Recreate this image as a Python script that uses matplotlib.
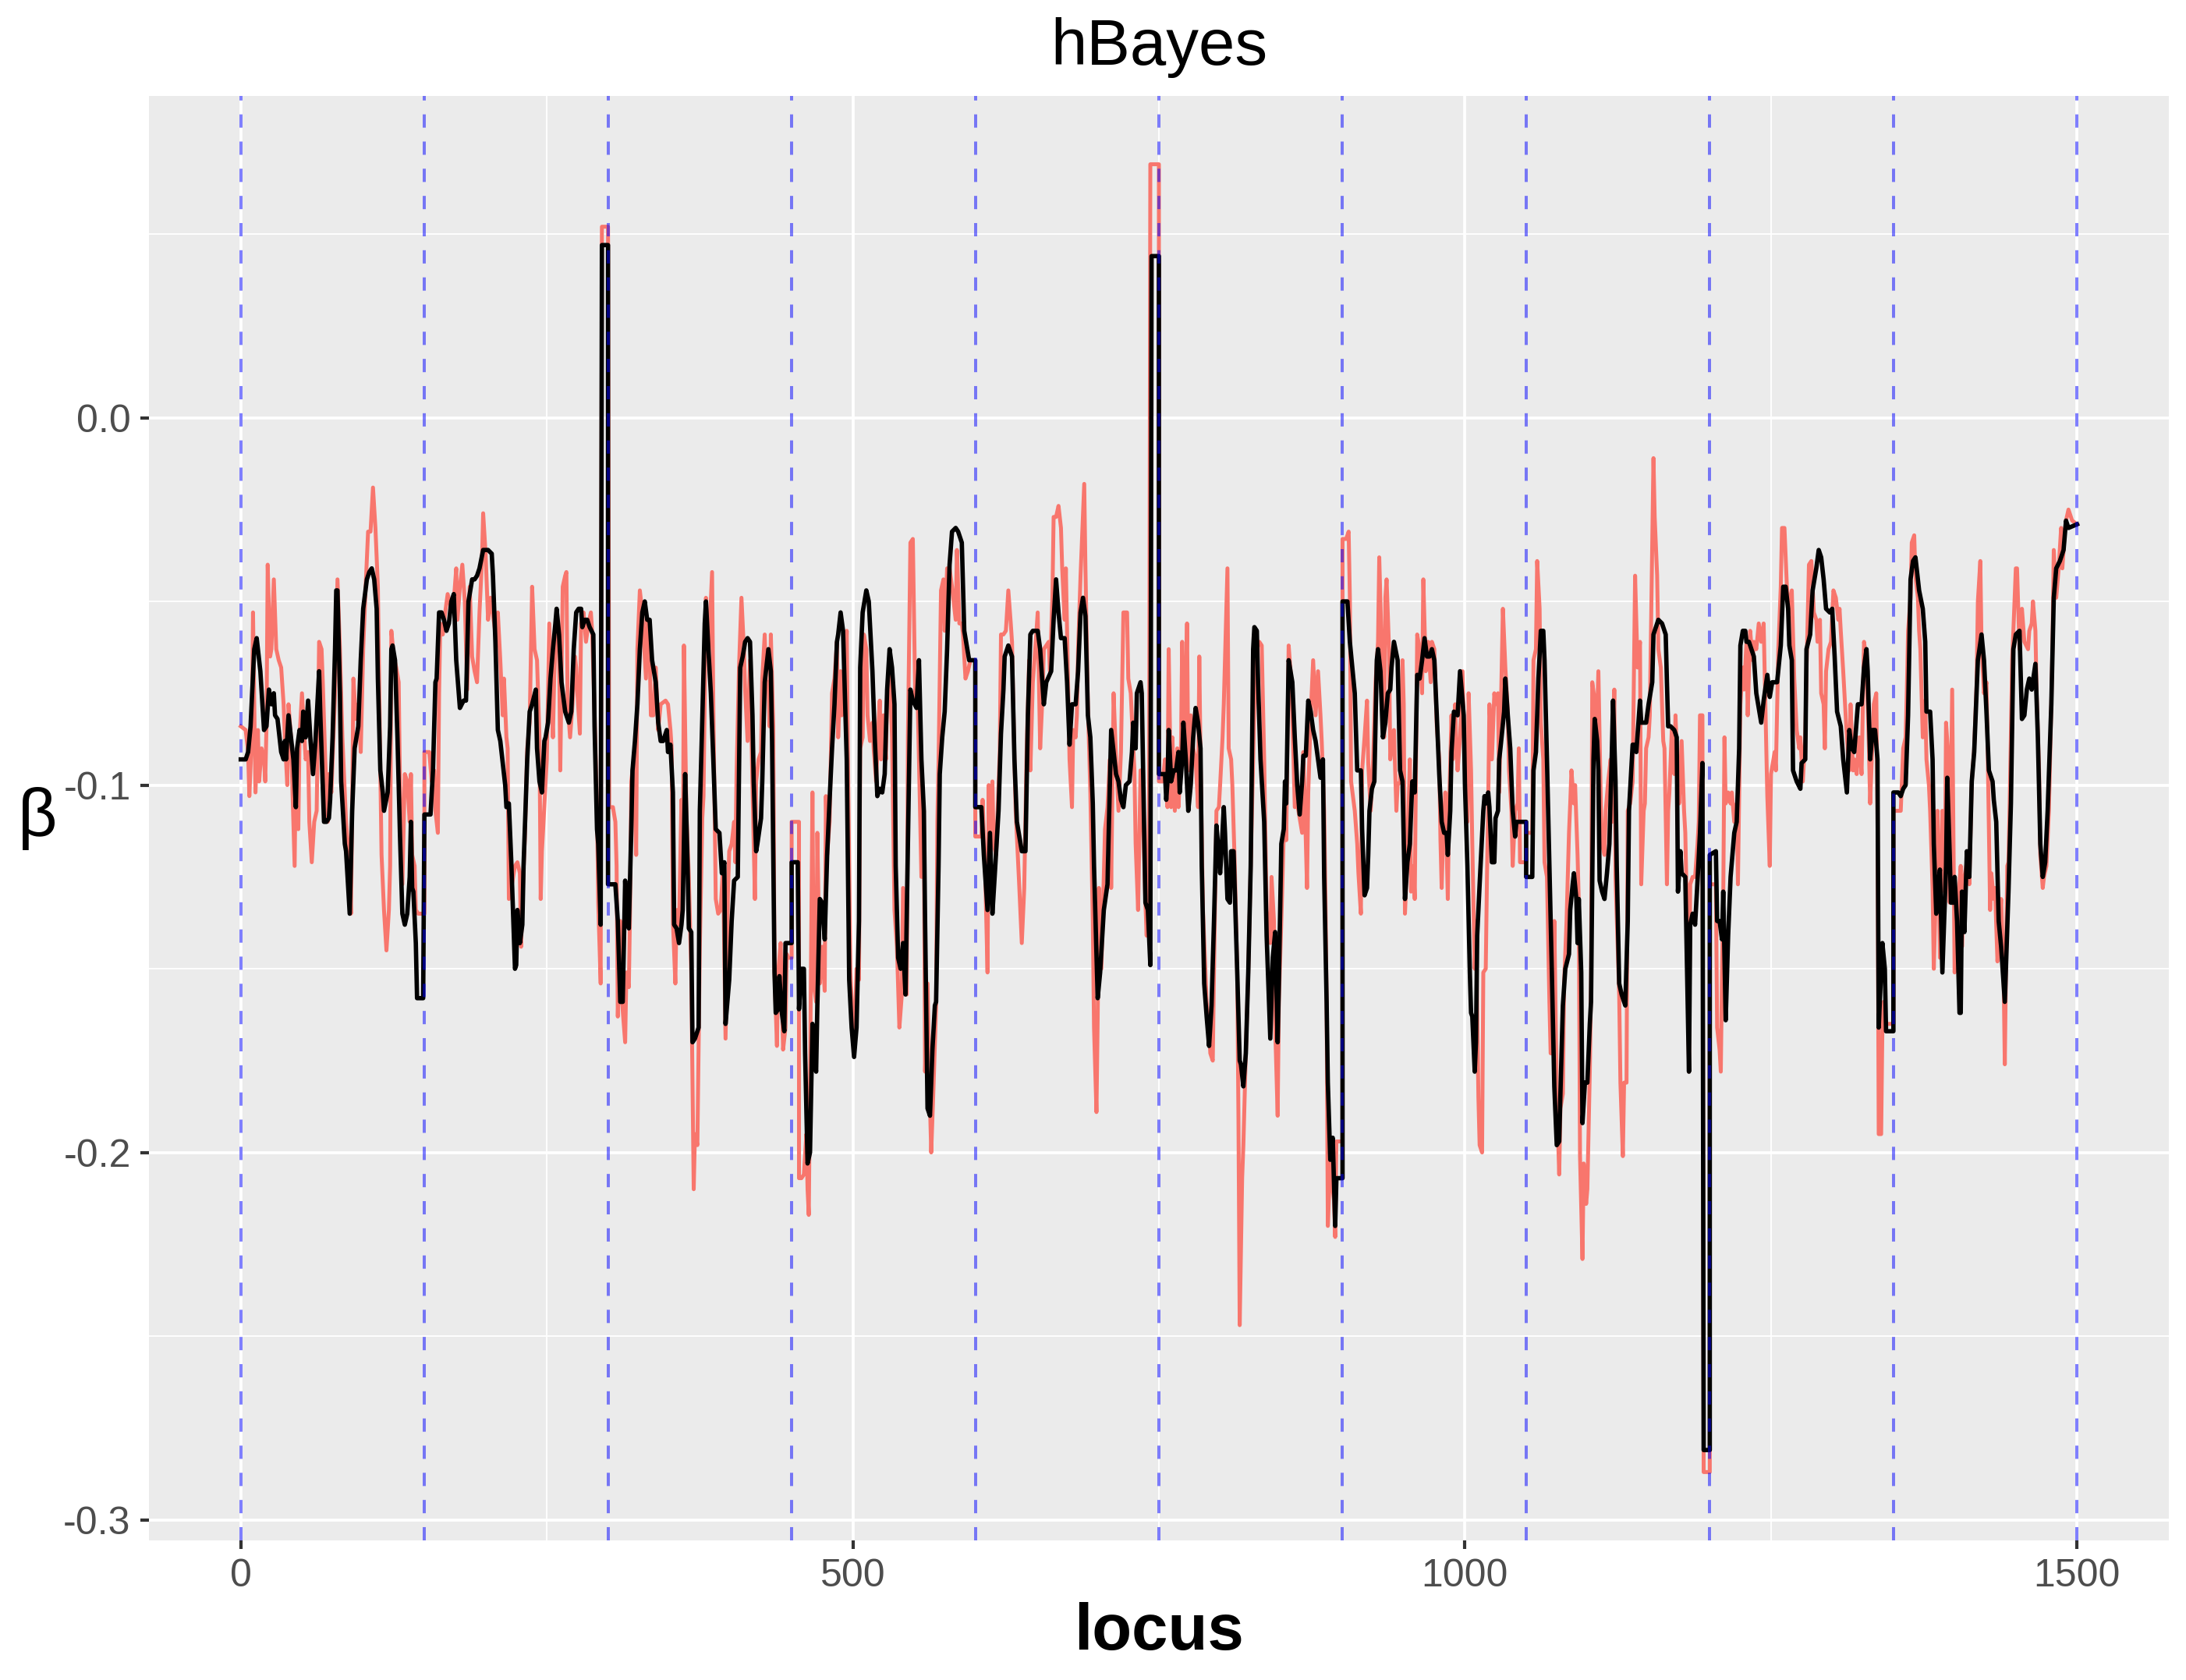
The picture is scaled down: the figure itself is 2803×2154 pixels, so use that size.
import matplotlib.pyplot as plt
import numpy as np

plt.rcParams['font.family'] = ['Liberation Sans', 'DejaVu Sans']

# smoothed estimate (black) as (locus, beta)
black_pts = [
    (0, -0.093), (4, -0.093), (6, -0.091), (8, -0.084), (11, -0.063), (13, -0.060), (16, -0.069),
    (19, -0.085), (21, -0.084), (23, -0.074), (25, -0.078), (27, -0.075), (28, -0.081), (30, -0.082),
    (33, -0.091), (35, -0.093), (36, -0.088), (37, -0.093), (39, -0.081), (41, -0.087), (43, -0.093),
    (45, -0.106), (46, -0.090), (48, -0.085), (50, -0.088), (51, -0.080), (53, -0.087), (55, -0.077),
    (57, -0.088), (59, -0.097), (61, -0.088), (64, -0.069), (65, -0.081), (68, -0.110), (70, -0.110),
    (72, -0.109), (73, -0.104), (75, -0.087), (77, -0.063), (78, -0.047), (79, -0.047), (81, -0.075),
    (82, -0.099), (85, -0.116), (86, -0.118), (89, -0.135), (91, -0.107), (93, -0.090), (96, -0.084),
    (98, -0.066), (100, -0.052), (103, -0.044), (105, -0.042), (107, -0.041), (109, -0.044),
    (111, -0.052), (112, -0.071), (114, -0.096), (116, -0.102), (117, -0.107), (120, -0.102),
    (122, -0.084), (123, -0.063), (124, -0.062), (126, -0.066), (128, -0.087), (130, -0.113),
    (132, -0.135), (134, -0.138), (136, -0.135), (138, -0.125), (139, -0.110), (140, -0.128),
    (141, -0.129), (143, -0.143), (144, -0.158), (149, -0.158), (150, -0.108), (155, -0.108),
    (157, -0.096), (159, -0.072), (160, -0.071), (162, -0.053), (164, -0.053), (166, -0.055),
    (168, -0.058), (170, -0.056), (172, -0.050), (174, -0.048), (176, -0.066), (179, -0.079),
    (182, -0.077), (184, -0.077), (186, -0.050), (189, -0.044), (191, -0.044), (193, -0.043),
    (195, -0.041), (198, -0.036), (200, -0.036), (202, -0.036), (205, -0.037), (206, -0.043),
    (208, -0.061), (210, -0.085), (212, -0.088), (214, -0.094), (216, -0.100), (217, -0.106),
    (219, -0.105), (221, -0.121), (224, -0.150), (225, -0.149), (226, -0.134), (228, -0.143),
    (230, -0.138), (231, -0.122), (234, -0.093), (236, -0.080), (238, -0.078), (241, -0.074),
    (242, -0.090), (244, -0.099), (246, -0.102), (248, -0.088), (249, -0.087), (251, -0.083),
    (253, -0.071), (255, -0.063), (257, -0.056), (258, -0.052), (260, -0.059), (262, -0.072),
    (265, -0.080), (268, -0.083), (270, -0.080), (272, -0.063), (274, -0.053), (276, -0.052),
    (278, -0.052), (279, -0.057), (281, -0.055), (283, -0.055), (285, -0.057), (288, -0.059),
    (289, -0.084), (291, -0.112), (292, -0.116), (294, -0.138), (295, 0.047), (300, 0.047),
    (300, -0.127), (306, -0.127), (308, -0.137), (310, -0.159), (312, -0.159), (314, -0.126),
    (315, -0.135), (317, -0.139), (319, -0.112), (320, -0.096), (322, -0.088), (324, -0.078),
    (326, -0.063), (328, -0.053), (330, -0.050), (332, -0.055), (334, -0.055), (336, -0.066),
    (339, -0.072), (341, -0.083), (343, -0.088), (345, -0.088), (348, -0.085), (349, -0.091),
    (351, -0.089), (353, -0.102), (354, -0.138), (356, -0.139), (358, -0.143), (360, -0.138),
    (361, -0.134), (363, -0.097), (365, -0.122), (366, -0.139), (368, -0.140), (369, -0.170),
    (371, -0.169), (374, -0.166), (375, -0.107), (377, -0.082), (379, -0.056), (380, -0.050),
    (382, -0.063), (384, -0.075), (386, -0.093), (388, -0.112), (391, -0.113), (393, -0.124),
    (395, -0.121), (396, -0.165), (399, -0.153), (401, -0.137), (403, -0.126), (406, -0.125),
    (408, -0.068), (410, -0.065), (412, -0.061), (414, -0.060), (416, -0.061), (418, -0.081),
    (419, -0.099), (421, -0.118), (422, -0.116), (425, -0.109), (426, -0.099), (428, -0.072),
    (431, -0.063), (433, -0.069), (434, -0.088), (436, -0.151), (437, -0.162), (439, -0.161),
    (440, -0.152), (442, -0.162), (444, -0.167), (445, -0.143), (450, -0.143), (450, -0.121),
    (455, -0.121), (456, -0.161), (458, -0.150), (460, -0.150), (461, -0.173), (463, -0.203),
    (465, -0.200), (467, -0.165), (468, -0.173), (470, -0.178), (471, -0.160), (473, -0.131),
    (475, -0.132), (477, -0.142), (479, -0.119), (481, -0.104), (483, -0.090), (485, -0.078),
    (487, -0.061), (488, -0.059), (490, -0.053), (492, -0.058), (495, -0.093), (497, -0.153),
    (499, -0.166), (501, -0.174), (503, -0.166), (505, -0.137), (506, -0.068), (508, -0.053),
    (511, -0.047), (513, -0.050), (516, -0.069), (518, -0.088), (520, -0.103), (522, -0.101),
    (524, -0.102), (526, -0.097), (528, -0.074), (530, -0.063), (532, -0.068), (534, -0.078),
    (535, -0.122), (537, -0.147), (539, -0.150), (541, -0.143), (543, -0.157), (545, -0.115),
    (547, -0.074), (549, -0.077), (552, -0.079), (554, -0.066), (556, -0.093), (558, -0.107),
    (559, -0.137), (561, -0.188), (563, -0.190), (565, -0.172), (567, -0.160), (568, -0.159),
    (570, -0.122), (571, -0.097), (573, -0.087), (575, -0.080), (577, -0.063), (579, -0.040),
    (581, -0.031), (584, -0.030), (586, -0.031), (589, -0.034), (591, -0.058), (593, -0.062),
    (595, -0.066), (600, -0.066), (600, -0.106), (605, -0.106), (607, -0.119), (610, -0.134),
    (612, -0.113), (614, -0.135), (616, -0.124), (619, -0.107), (621, -0.086), (623, -0.074),
    (624, -0.065), (627, -0.062), (630, -0.065), (632, -0.093), (634, -0.110), (638, -0.118),
    (641, -0.118), (643, -0.081), (645, -0.059), (647, -0.058), (651, -0.058), (653, -0.063),
    (656, -0.078), (658, -0.072), (662, -0.069), (664, -0.055), (666, -0.044), (668, -0.053),
    (670, -0.060), (673, -0.060), (675, -0.072), (677, -0.089), (679, -0.078), (682, -0.078),
    (684, -0.069), (686, -0.053), (688, -0.049), (690, -0.054), (692, -0.081), (694, -0.087),
    (696, -0.105), (697, -0.122), (700, -0.158), (702, -0.151), (705, -0.134), (708, -0.127),
    (711, -0.085), (713, -0.091), (715, -0.097), (717, -0.099), (719, -0.104), (721, -0.106),
    (723, -0.100), (726, -0.099), (728, -0.091), (729, -0.083), (731, -0.090), (732, -0.075),
    (735, -0.072), (736, -0.075), (739, -0.132), (741, -0.134), (743, -0.149), (744, 0.044),
    (750, 0.044), (750, -0.097), (755, -0.097), (756, -0.104), (757, -0.099), (758, -0.085),
    (760, -0.099), (762, -0.096), (764, -0.096), (766, -0.091), (767, -0.102), (769, -0.093),
    (770, -0.083), (772, -0.093), (774, -0.107), (776, -0.100), (778, -0.087), (780, -0.079),
    (782, -0.083), (784, -0.090), (785, -0.122), (787, -0.154), (789, -0.163), (791, -0.171),
    (793, -0.160), (795, -0.137), (797, -0.111), (799, -0.119), (800, -0.124), (801, -0.119),
    (803, -0.106), (804, -0.113), (806, -0.131), (808, -0.132), (809, -0.118), (811, -0.118),
    (812, -0.129), (814, -0.151), (816, -0.175), (817, -0.176), (819, -0.182), (821, -0.173),
    (823, -0.151), (825, -0.122), (827, -0.063), (828, -0.057), (830, -0.058), (831, -0.072),
    (833, -0.093), (836, -0.110), (838, -0.141), (841, -0.169), (843, -0.147), (845, -0.140),
    (847, -0.170), (848, -0.154), (850, -0.116), (852, -0.112), (853, -0.099), (854, -0.105),
    (856, -0.066), (859, -0.072), (861, -0.087), (863, -0.100), (865, -0.108), (867, -0.099),
    (868, -0.092), (870, -0.092), (872, -0.077), (874, -0.080), (876, -0.085), (878, -0.088),
    (880, -0.093), (882, -0.098), (884, -0.093), (885, -0.125), (887, -0.159), (888, -0.181),
    (890, -0.202), (892, -0.196), (894, -0.220), (895, -0.207), (900, -0.207), (900, -0.050),
    (904, -0.050), (906, -0.061), (910, -0.075), (912, -0.096), (915, -0.096), (916, -0.112),
    (918, -0.130), (920, -0.128), (921, -0.119), (922, -0.107), (924, -0.101), (926, -0.099),
    (928, -0.066), (929, -0.063), (931, -0.069), (933, -0.087), (935, -0.083), (937, -0.075),
    (939, -0.074), (940, -0.068), (942, -0.061), (945, -0.066), (947, -0.096), (949, -0.099),
    (951, -0.131), (953, -0.121), (955, -0.116), (957, -0.099), (959, -0.102), (961, -0.070),
    (963, -0.071), (965, -0.066), (967, -0.060), (969, -0.065), (971, -0.065), (973, -0.063),
    (975, -0.066), (977, -0.081), (979, -0.097), (981, -0.110), (983, -0.113), (985, -0.113),
    (986, -0.119), (988, -0.107), (989, -0.091), (991, -0.080), (994, -0.081), (996, -0.069),
    (999, -0.081), (1000, -0.100), (1002, -0.122), (1004, -0.151), (1005, -0.162), (1006, -0.163),
    (1008, -0.178), (1009, -0.170), (1010, -0.141), (1012, -0.127), (1015, -0.107), (1016, -0.103),
    (1017, -0.105), (1019, -0.102), (1020, -0.106), (1022, -0.121), (1024, -0.121), (1025, -0.109),
    (1027, -0.107), (1028, -0.093), (1029, -0.090), (1032, -0.080), (1033, -0.071), (1035, -0.081),
    (1037, -0.090), (1039, -0.107), (1041, -0.114), (1042, -0.110), (1050, -0.110), (1050, -0.125),
    (1055, -0.125), (1056, -0.096), (1058, -0.091), (1060, -0.071), (1062, -0.058), (1064, -0.058),
    (1065, -0.066), (1067, -0.093), (1069, -0.122), (1071, -0.151), (1073, -0.182), (1075, -0.198),
    (1077, -0.197), (1078, -0.184), (1080, -0.160), (1082, -0.150), (1085, -0.146), (1086, -0.134),
    (1088, -0.127), (1089, -0.124), (1091, -0.131), (1092, -0.143), (1093, -0.131), (1095, -0.151),
    (1096, -0.192), (1098, -0.181), (1100, -0.181), (1102, -0.165), (1103, -0.159), (1105, -0.093),
    (1106, -0.082), (1108, -0.088), (1109, -0.096), (1110, -0.126), (1112, -0.129), (1114, -0.131),
    (1116, -0.124), (1118, -0.116), (1120, -0.091), (1121, -0.077), (1123, -0.099), (1124, -0.122),
    (1126, -0.154), (1128, -0.157), (1131, -0.160), (1133, -0.137), (1134, -0.107), (1137, -0.089),
    (1138, -0.089), (1140, -0.091), (1143, -0.077), (1144, -0.083), (1146, -0.083), (1148, -0.083),
    (1150, -0.078), (1153, -0.072), (1154, -0.059), (1156, -0.057), (1158, -0.055), (1161, -0.056),
    (1164, -0.059), (1165, -0.072), (1166, -0.084), (1168, -0.084), (1171, -0.085), (1173, -0.087),
    (1174, -0.129), (1176, -0.118), (1177, -0.124), (1180, -0.125), (1181, -0.143), (1183, -0.178),
    (1184, -0.138), (1186, -0.135), (1188, -0.138), (1190, -0.126), (1192, -0.113), (1194, -0.094),
    (1195, -0.281), (1200, -0.281), (1200, -0.119), (1205, -0.118), (1206, -0.137), (1208, -0.137),
    (1210, -0.142), (1211, -0.129), (1213, -0.164), (1215, -0.141), (1217, -0.125), (1220, -0.113),
    (1222, -0.110), (1224, -0.090), (1225, -0.062), (1227, -0.058), (1229, -0.058), (1230, -0.061),
    (1232, -0.061), (1234, -0.063), (1236, -0.065), (1238, -0.075), (1241, -0.081), (1242, -0.083),
    (1244, -0.077), (1247, -0.070), (1249, -0.076), (1251, -0.072), (1255, -0.072), (1258, -0.062),
    (1260, -0.046), (1262, -0.046), (1264, -0.052), (1265, -0.062), (1267, -0.066), (1268, -0.096),
    (1271, -0.099), (1274, -0.101), (1275, -0.094), (1278, -0.093), (1279, -0.063), (1282, -0.059),
    (1284, -0.047), (1287, -0.041), (1289, -0.036), (1291, -0.038), (1293, -0.044), (1295, -0.052),
    (1298, -0.053), (1300, -0.052), (1302, -0.065), (1304, -0.080), (1307, -0.084), (1309, -0.093),
    (1312, -0.102), (1314, -0.085), (1316, -0.090), (1318, -0.091), (1321, -0.078), (1324, -0.078),
    (1326, -0.068), (1328, -0.063), (1329, -0.069), (1331, -0.093), (1333, -0.085), (1335, -0.085),
    (1337, -0.093), (1338, -0.166), (1341, -0.143), (1343, -0.150), (1344, -0.167), (1350, -0.167),
    (1350, -0.102), (1354, -0.102), (1356, -0.103), (1358, -0.101), (1360, -0.100), (1362, -0.081),
    (1363, -0.063), (1364, -0.044), (1366, -0.039), (1368, -0.038), (1369, -0.041), (1371, -0.047),
    (1374, -0.052), (1376, -0.061), (1377, -0.080), (1380, -0.080), (1382, -0.093), (1383, -0.116),
    (1385, -0.135), (1386, -0.129), (1388, -0.123), (1390, -0.151), (1393, -0.122), (1394, -0.098),
    (1396, -0.119), (1397, -0.132), (1399, -0.132), (1400, -0.125), (1402, -0.137), (1404, -0.162),
    (1405, -0.162), (1406, -0.129), (1408, -0.140), (1410, -0.118), (1412, -0.125), (1414, -0.099),
    (1416, -0.091), (1419, -0.066), (1422, -0.059), (1424, -0.066), (1426, -0.080), (1428, -0.096),
    (1431, -0.099), (1432, -0.104), (1434, -0.110), (1436, -0.137), (1438, -0.144), (1441, -0.159),
    (1444, -0.129), (1446, -0.105), (1448, -0.063), (1450, -0.059), (1453, -0.058), (1455, -0.082),
    (1457, -0.081), (1459, -0.074), (1461, -0.071), (1463, -0.074), (1466, -0.067), (1468, -0.087),
    (1470, -0.116), (1472, -0.125), (1474, -0.121), (1476, -0.107), (1479, -0.078), (1481, -0.049),
    (1483, -0.041), (1486, -0.039), (1489, -0.036), (1491, -0.028), (1493, -0.030), (1500, -0.029),
]

# raw estimate (red) as (locus, beta)
red_pts = [
    (0, -0.084), (4, -0.085), (6, -0.091), (7, -0.103), (9, -0.087), (10, -0.053), (12, -0.102),
    (13, -0.093), (14, -0.085), (15, -0.099), (17, -0.090), (19, -0.093), (20, -0.099), (21, -0.084),
    (22, -0.040), (24, -0.065), (25, -0.063), (27, -0.044), (29, -0.063), (31, -0.066), (33, -0.068),
    (35, -0.078), (36, -0.087), (38, -0.100), (39, -0.078), (41, -0.087), (43, -0.110), (44, -0.122),
    (45, -0.093), (47, -0.112), (48, -0.087), (50, -0.075), (53, -0.093), (55, -0.091), (56, -0.110),
    (58, -0.121), (60, -0.110), (62, -0.107), (64, -0.061), (66, -0.063), (67, -0.072), (69, -0.093),
    (71, -0.110), (72, -0.097), (74, -0.102), (76, -0.084), (77, -0.075), (79, -0.044), (81, -0.063),
    (83, -0.087), (86, -0.110), (88, -0.118), (90, -0.135), (91, -0.107), (92, -0.071), (94, -0.082),
    (96, -0.078), (98, -0.091), (100, -0.063), (102, -0.046), (104, -0.031), (106, -0.031),
    (108, -0.019), (110, -0.030), (112, -0.046), (114, -0.096), (115, -0.119), (117, -0.134),
    (119, -0.145), (121, -0.134), (122, -0.122), (123, -0.058), (125, -0.065), (127, -0.068),
    (129, -0.072), (130, -0.099), (132, -0.127), (134, -0.097), (136, -0.099), (138, -0.110),
    (139, -0.097), (140, -0.119), (142, -0.122), (143, -0.134), (145, -0.135), (150, -0.135),
    (150, -0.091), (154, -0.091), (156, -0.099), (158, -0.096), (159, -0.107), (161, -0.113),
    (162, -0.075), (163, -0.056), (165, -0.059), (167, -0.053), (169, -0.048), (172, -0.052),
    (174, -0.050), (176, -0.041), (177, -0.055), (179, -0.046), (181, -0.040), (183, -0.050),
    (185, -0.074), (187, -0.046), (189, -0.065), (191, -0.069), (193, -0.072), (195, -0.053),
    (197, -0.039), (198, -0.026), (200, -0.037), (202, -0.055), (204, -0.049), (207, -0.056),
    (209, -0.062), (210, -0.053), (212, -0.066), (214, -0.081), (215, -0.071), (217, -0.087),
    (218, -0.090), (219, -0.131), (221, -0.128), (224, -0.122), (226, -0.121), (228, -0.124),
    (229, -0.144), (230, -0.131), (232, -0.115), (234, -0.090), (236, -0.083), (238, -0.046),
    (240, -0.063), (242, -0.066), (244, -0.087), (245, -0.131), (246, -0.118), (247, -0.112),
    (249, -0.099), (250, -0.093), (252, -0.056), (254, -0.078), (255, -0.087), (256, -0.071),
    (258, -0.053), (260, -0.063), (261, -0.096), (263, -0.046), (265, -0.043), (266, -0.042),
    (267, -0.078), (269, -0.087), (271, -0.078), (273, -0.065), (274, -0.068), (275, -0.075),
    (277, -0.086), (278, -0.056), (280, -0.053), (282, -0.061), (284, -0.056), (286, -0.053),
    (287, -0.058), (289, -0.080), (291, -0.106), (292, -0.132), (294, -0.154), (295, 0.052),
    (300, 0.052), (301, -0.106), (304, -0.106), (306, -0.110), (307, -0.122), (308, -0.163),
    (310, -0.137), (311, -0.157), (314, -0.170), (315, -0.151), (317, -0.155), (318, -0.134),
    (319, -0.099), (321, -0.093), (323, -0.119), (324, -0.063), (326, -0.047), (328, -0.053),
    (331, -0.071), (332, -0.055), (334, -0.063), (335, -0.081), (337, -0.081), (339, -0.068),
    (341, -0.085), (343, -0.078), (347, -0.077), (349, -0.078), (351, -0.085), (352, -0.090),
    (353, -0.137), (355, -0.154), (356, -0.134), (358, -0.138), (360, -0.104), (361, -0.132),
    (362, -0.062), (364, -0.107), (366, -0.125), (368, -0.151), (370, -0.210), (371, -0.195),
    (373, -0.198), (375, -0.144), (377, -0.109), (378, -0.103), (380, -0.049), (382, -0.065),
    (385, -0.042), (386, -0.078), (388, -0.131), (390, -0.135), (392, -0.134), (394, -0.122),
    (395, -0.146), (396, -0.169), (398, -0.129), (399, -0.118), (401, -0.116), (403, -0.110),
    (404, -0.121), (405, -0.097), (407, -0.068), (409, -0.049), (411, -0.063), (412, -0.074),
    (414, -0.088), (416, -0.066), (418, -0.100), (420, -0.131), (421, -0.099), (423, -0.093),
    (425, -0.091), (426, -0.071), (428, -0.059), (429, -0.072), (431, -0.072), (432, -0.084),
    (433, -0.059), (435, -0.084), (436, -0.151), (438, -0.171), (439, -0.151), (441, -0.143),
    (443, -0.172), (445, -0.166), (446, -0.146), (447, -0.147), (450, -0.147), (450, -0.110),
    (456, -0.110), (456, -0.207), (458, -0.207), (460, -0.206), (462, -0.195), (463, -0.210),
    (464, -0.217), (465, -0.181), (467, -0.102), (468, -0.154), (470, -0.159), (471, -0.113),
    (473, -0.154), (475, -0.144), (477, -0.156), (478, -0.103), (479, -0.119), (481, -0.110),
    (483, -0.075), (485, -0.071), (487, -0.061), (488, -0.087), (490, -0.069), (491, -0.081),
    (493, -0.078), (495, -0.058), (496, -0.093), (498, -0.151), (500, -0.166), (501, -0.173),
    (503, -0.150), (505, -0.153), (506, -0.090), (508, -0.087), (509, -0.059), (511, -0.063),
    (512, -0.081), (514, -0.088), (516, -0.083), (517, -0.090), (519, -0.099), (521, -0.083),
    (522, -0.077), (523, -0.093), (525, -0.081), (527, -0.093), (528, -0.075), (530, -0.068),
    (532, -0.087), (534, -0.134), (536, -0.144), (538, -0.166), (540, -0.157), (541, -0.128),
    (544, -0.157), (545, -0.087), (547, -0.034), (549, -0.033), (551, -0.077), (553, -0.078),
    (554, -0.093), (556, -0.125), (558, -0.107), (559, -0.178), (561, -0.154), (563, -0.187),
    (564, -0.200), (566, -0.181), (568, -0.160), (569, -0.110), (570, -0.094), (572, -0.047),
    (574, -0.044), (575, -0.058), (577, -0.041), (579, -0.041), (581, -0.046), (584, -0.055),
    (585, -0.036), (587, -0.056), (589, -0.056), (590, -0.059), (592, -0.071), (594, -0.069),
    (596, -0.066), (600, -0.066), (600, -0.114), (605, -0.114), (606, -0.104), (608, -0.122),
    (610, -0.151), (611, -0.100), (612, -0.119), (614, -0.099), (615, -0.116), (617, -0.119),
    (620, -0.091), (621, -0.059), (623, -0.059), (625, -0.058), (627, -0.047), (629, -0.056),
    (630, -0.061), (632, -0.093), (633, -0.107), (636, -0.128), (638, -0.143), (640, -0.128),
    (642, -0.090), (644, -0.066), (645, -0.096), (647, -0.072), (649, -0.063), (651, -0.053),
    (653, -0.090), (655, -0.075), (656, -0.063), (658, -0.062), (660, -0.061), (661, -0.069),
    (663, -0.049), (664, -0.027), (666, -0.027), (668, -0.024), (670, -0.030), (671, -0.041),
    (673, -0.055), (674, -0.041), (676, -0.075), (677, -0.093), (679, -0.106), (680, -0.085),
    (682, -0.087), (683, -0.081), (684, -0.063), (686, -0.043), (689, -0.018), (690, -0.041),
    (692, -0.078), (694, -0.102), (696, -0.137), (697, -0.166), (699, -0.189), (700, -0.163),
    (701, -0.128), (703, -0.150), (706, -0.112), (708, -0.106), (710, -0.093), (711, -0.128),
    (713, -0.075), (715, -0.093), (717, -0.107), (719, -0.091), (721, -0.053), (724, -0.053),
    (725, -0.071), (727, -0.075), (730, -0.096), (731, -0.116), (733, -0.134), (735, -0.096),
    (736, -0.097), (739, -0.132), (740, -0.141), (742, -0.107), (743, 0.069), (750, 0.069),
    (750, -0.099), (753, -0.099), (755, -0.093), (757, -0.106), (758, -0.063), (760, -0.106),
    (761, -0.087), (763, -0.107), (765, -0.090), (766, -0.106), (768, -0.091), (769, -0.061),
    (771, -0.093), (773, -0.056), (774, -0.096), (776, -0.081), (778, -0.090), (780, -0.093),
    (782, -0.106), (783, -0.065), (784, -0.093), (786, -0.134), (789, -0.159), (791, -0.166),
    (792, -0.173), (794, -0.175), (795, -0.151), (797, -0.107), (799, -0.106), (800, -0.100),
    (802, -0.087), (803, -0.078), (806, -0.041), (807, -0.090), (809, -0.093), (810, -0.100),
    (812, -0.122), (814, -0.151), (815, -0.191), (816, -0.247), (818, -0.207), (819, -0.198),
    (821, -0.173), (823, -0.151), (824, -0.137), (826, -0.107), (828, -0.078), (830, -0.063),
    (832, -0.061), (834, -0.062), (836, -0.093), (838, -0.134), (841, -0.143), (842, -0.125),
    (844, -0.137), (845, -0.166), (847, -0.190), (848, -0.159), (850, -0.137), (852, -0.113),
    (853, -0.107), (854, -0.115), (856, -0.062), (858, -0.071), (860, -0.093), (861, -0.106),
    (863, -0.105), (865, -0.109), (867, -0.113), (868, -0.091), (870, -0.115), (871, -0.128),
    (872, -0.102), (874, -0.081), (876, -0.066), (878, -0.081), (880, -0.069), (882, -0.081),
    (883, -0.088), (885, -0.107), (886, -0.129), (887, -0.159), (888, -0.220), (890, -0.203),
    (892, -0.210), (893, -0.213), (894, -0.223), (895, -0.197), (900, -0.197), (900, -0.033),
    (903, -0.033), (905, -0.031), (906, -0.049), (907, -0.099), (910, -0.107), (912, -0.116),
    (913, -0.124), (915, -0.135), (916, -0.096), (918, -0.087), (920, -0.077), (921, -0.094),
    (923, -0.107), (924, -0.099), (925, -0.093), (927, -0.072), (929, -0.061), (930, -0.038),
    (932, -0.063), (934, -0.087), (935, -0.049), (936, -0.044), (938, -0.063), (939, -0.093),
    (941, -0.087), (942, -0.085), (944, -0.107), (945, -0.100), (947, -0.099), (949, -0.066),
    (950, -0.078), (951, -0.135), (953, -0.119), (955, -0.093), (956, -0.129), (958, -0.122),
    (959, -0.131), (961, -0.059), (963, -0.063), (965, -0.075), (966, -0.044), (968, -0.069),
    (970, -0.061), (972, -0.072), (973, -0.061), (975, -0.063), (977, -0.084), (979, -0.093),
    (980, -0.115), (981, -0.128), (982, -0.116), (984, -0.102), (986, -0.131), (987, -0.107),
    (989, -0.081), (990, -0.093), (992, -0.078), (993, -0.090), (994, -0.096), (996, -0.087),
    (998, -0.069), (1000, -0.096), (1002, -0.110), (1003, -0.075), (1005, -0.096), (1006, -0.116),
    (1008, -0.150), (1009, -0.137), (1011, -0.185), (1012, -0.198), (1014, -0.200), (1015, -0.151),
    (1017, -0.150), (1018, -0.125), (1019, -0.105), (1020, -0.078), (1022, -0.093), (1024, -0.075),
    (1025, -0.078), (1027, -0.075), (1028, -0.102), (1029, -0.085), (1031, -0.052), (1033, -0.068),
    (1035, -0.080), (1036, -0.096), (1038, -0.107), (1039, -0.122), (1041, -0.107), (1043, -0.105),
    (1044, -0.090), (1045, -0.121), (1050, -0.121), (1050, -0.113), (1055, -0.113), (1056, -0.066),
    (1058, -0.063), (1059, -0.039), (1061, -0.052), (1062, -0.083), (1064, -0.093), (1065, -0.121),
    (1067, -0.125), (1069, -0.159), (1070, -0.173), (1072, -0.173), (1073, -0.137), (1075, -0.184),
    (1077, -0.206), (1078, -0.188), (1080, -0.184), (1081, -0.154), (1083, -0.137), (1085, -0.113),
    (1086, -0.105), (1087, -0.096), (1089, -0.105), (1090, -0.100), (1092, -0.119), (1093, -0.132),
    (1094, -0.201), (1096, -0.229), (1097, -0.203), (1099, -0.214), (1100, -0.210), (1102, -0.178),
    (1103, -0.154), (1104, -0.072), (1106, -0.077), (1107, -0.093), (1109, -0.069), (1111, -0.105),
    (1112, -0.116), (1114, -0.119), (1115, -0.107), (1117, -0.099), (1119, -0.093), (1120, -0.110),
    (1122, -0.074), (1123, -0.125), (1126, -0.157), (1127, -0.181), (1129, -0.201), (1130, -0.181),
    (1132, -0.181), (1133, -0.107), (1135, -0.105), (1137, -0.099), (1139, -0.043), (1141, -0.068),
    (1143, -0.061), (1144, -0.127), (1146, -0.107), (1147, -0.105), (1148, -0.090), (1150, -0.087),
    (1151, -0.081), (1154, -0.011), (1155, -0.027), (1157, -0.043), (1158, -0.063), (1160, -0.068),
    (1162, -0.088), (1163, -0.090), (1165, -0.127), (1166, -0.107), (1167, -0.102), (1169, -0.085),
    (1171, -0.097), (1172, -0.081), (1174, -0.100), (1175, -0.105), (1177, -0.088), (1179, -0.107),
    (1180, -0.113), (1181, -0.129), (1183, -0.178), (1184, -0.127), (1186, -0.125), (1188, -0.125),
    (1190, -0.116), (1191, -0.110), (1192, -0.081), (1194, -0.081), (1195, -0.287), (1200, -0.287),
    (1200, -0.127), (1205, -0.127), (1206, -0.166), (1208, -0.172), (1209, -0.178), (1210, -0.151),
    (1211, -0.131), (1212, -0.087), (1213, -0.105), (1215, -0.102), (1217, -0.105), (1218, -0.102),
    (1220, -0.110), (1222, -0.105), (1223, -0.127), (1225, -0.078), (1226, -0.072), (1227, -0.068),
    (1228, -0.074), (1230, -0.061), (1231, -0.081), (1233, -0.058), (1235, -0.066), (1236, -0.061),
    (1238, -0.063), (1240, -0.056), (1242, -0.061), (1244, -0.056), (1246, -0.087), (1247, -0.103),
    (1249, -0.122), (1250, -0.097), (1253, -0.091), (1254, -0.096), (1256, -0.063), (1258, -0.046),
    (1259, -0.030), (1261, -0.030), (1263, -0.046), (1265, -0.053), (1267, -0.047), (1269, -0.071),
    (1271, -0.085), (1273, -0.090), (1274, -0.087), (1276, -0.099), (1278, -0.087), (1279, -0.069),
    (1281, -0.040), (1283, -0.039), (1285, -0.053), (1287, -0.055), (1288, -0.061), (1290, -0.055),
    (1291, -0.075), (1293, -0.078), (1294, -0.090), (1295, -0.069), (1297, -0.063), (1299, -0.061),
    (1301, -0.047), (1303, -0.049), (1305, -0.055), (1306, -0.052), (1307, -0.058), (1309, -0.069),
    (1310, -0.075), (1312, -0.087), (1314, -0.096), (1315, -0.078), (1317, -0.096), (1318, -0.093),
    (1320, -0.097), (1322, -0.087), (1324, -0.097), (1326, -0.061), (1328, -0.066), (1330, -0.090),
    (1331, -0.105), (1333, -0.087), (1334, -0.078), (1336, -0.075), (1337, -0.107), (1338, -0.195),
    (1340, -0.195), (1341, -0.166), (1342, -0.159), (1343, -0.165), (1350, -0.165), (1350, -0.107),
    (1356, -0.107), (1358, -0.090), (1360, -0.087), (1361, -0.074), (1362, -0.058), (1364, -0.049),
    (1365, -0.034), (1367, -0.032), (1368, -0.043), (1370, -0.049), (1371, -0.058), (1372, -0.063),
    (1374, -0.087), (1376, -0.077), (1377, -0.093), (1379, -0.100), (1380, -0.107), (1382, -0.128),
    (1383, -0.150), (1385, -0.125), (1386, -0.107), (1387, -0.121), (1388, -0.147), (1390, -0.107),
    (1392, -0.129), (1393, -0.083), (1395, -0.093), (1396, -0.132), (1398, -0.074), (1400, -0.151),
    (1402, -0.143), (1403, -0.131), (1405, -0.122), (1406, -0.144), (1408, -0.125), (1411, -0.119),
    (1412, -0.127), (1414, -0.099), (1416, -0.090), (1418, -0.072), (1419, -0.050), (1421, -0.039),
    (1422, -0.062), (1424, -0.075), (1426, -0.072), (1427, -0.090), (1429, -0.134), (1430, -0.124),
    (1432, -0.131), (1433, -0.128), (1435, -0.148), (1437, -0.137), (1438, -0.131), (1440, -0.151),
    (1441, -0.176), (1443, -0.122), (1444, -0.121), (1445, -0.105), (1447, -0.066), (1448, -0.058),
    (1450, -0.041), (1451, -0.041), (1453, -0.063), (1454, -0.055), (1455, -0.052), (1457, -0.061),
    (1460, -0.063), (1461, -0.058), (1463, -0.056), (1464, -0.050), (1466, -0.058), (1467, -0.075),
    (1469, -0.096), (1470, -0.119), (1472, -0.128), (1473, -0.125), (1475, -0.122), (1477, -0.107),
    (1479, -0.078), (1480, -0.061), (1481, -0.036), (1483, -0.049), (1485, -0.041), (1487, -0.030),
    (1488, -0.041), (1490, -0.031), (1491, -0.028), (1493, -0.025), (1496, -0.028), (1500, -0.029),
]

# block boundaries (blue dashed lines)
boundaries = [0, 150, 300, 450, 600, 750, 900, 1050, 1200, 1350, 1500]
x_ticks = [0, 500, 1000, 1500]
y_ticks = [-0.3, -0.2, -0.1, 0.0]
y_ticklabels = ['-0.3', '-0.2', '-0.1', '0.0']

black_locus, black_beta = zip(*black_pts)
red_locus, red_beta = zip(*red_pts)

fig = plt.figure(figsize=(2804 / 300, 2154 / 300), dpi=300)
ax = fig.add_axes([191 / 2804, 1 - 1975 / 2154, 2590 / 2804, 1852 / 2154])

ax.set_facecolor('#EBEBEB')
for s in ax.spines.values():
    s.set_visible(False)

ax.set_xlim(-75, 1575)
ax.set_ylim(-0.3056, 0.0876)

# ggplot style grid
ax.set_xticks(x_ticks)
ax.set_xticks([250, 750, 1250], minor=True)
ax.set_yticks(y_ticks)
ax.set_yticklabels(y_ticklabels)
ax.set_yticks([-0.25, -0.15, -0.05, 0.05], minor=True)
ax.grid(which='major', color='white', linewidth=0.9)
ax.grid(which='minor', color='white', linewidth=0.45)
ax.set_axisbelow(True)
ax.tick_params(which='minor', length=0)
ax.tick_params(which='major', length=2.7, width=1.0, color='#333333',
               labelcolor='#4D4D4D', labelsize=12, pad=2.9)

ax.plot(red_locus, red_beta, color='#F8766D', linewidth=1.2, zorder=2)
ax.plot(black_locus, black_beta, color='black', linewidth=1.35, zorder=3)
for b in boundaries:
    ax.axvline(b, color='blue', alpha=0.5, linewidth=0.95,
               linestyle=(0, (4.3, 4.5)), zorder=4)

fig.text(1486 / 2804, 1 - 83 / 2154, 'hBayes', ha='center', va='baseline', fontsize=20)
fig.text(1486 / 2804, 1 - 2115 / 2154, 'locus', ha='center', va='baseline',
         fontsize=20, fontweight='bold')
fig.text(48 / 2804, 1 - 1050 / 2154, 'β', ha='center', va='center', fontsize=21)

fig.savefig('out.png', dpi=300)
